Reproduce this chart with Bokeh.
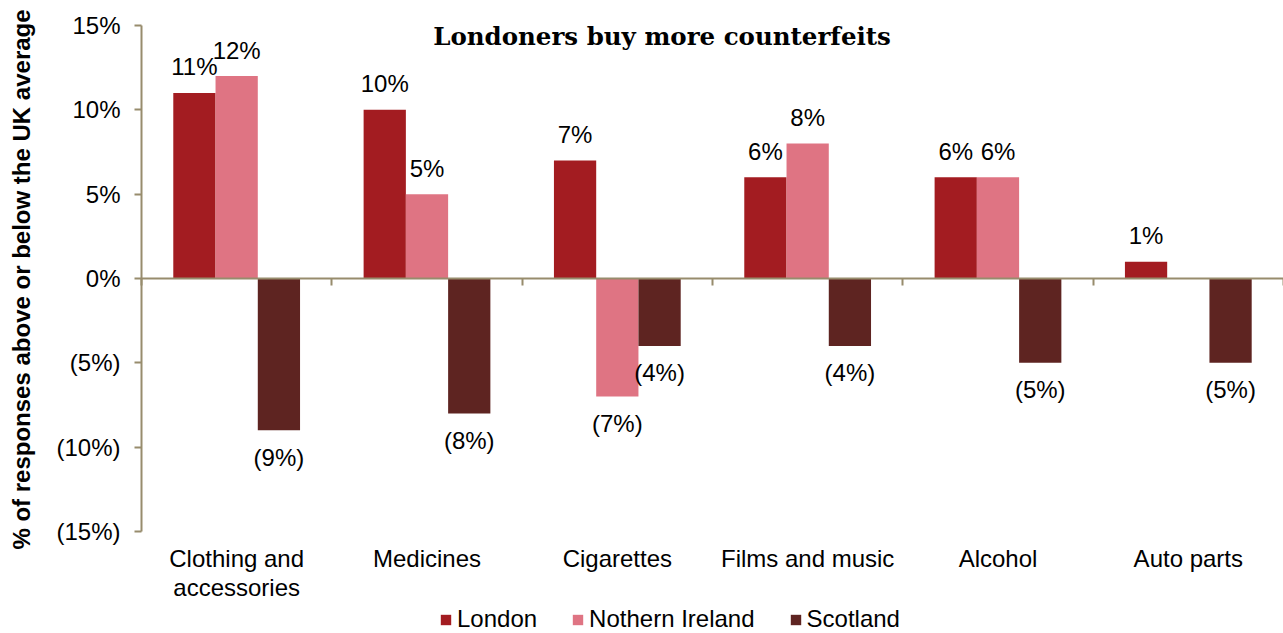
import math
import numpy as np
from bokeh.plotting import figure
from bokeh.models import (ColumnDataSource, Range1d, LinearAxis, FixedTicker,
                          Label, Legend, LegendItem)
from bokeh.transform import dodge
from bokeh.core.properties import value
from bokeh.embed import file_html
from bokeh.resources import INLINE

# ---------------- data ----------------
categories = ["Clothing and\naccessories", "Medicines", "Cigarettes",
              "Films and music", "Alcohol", "Auto parts"]
series_names = ["London", "Nothern Ireland", "Scotland"]
london = [11, 10, 7, 6, 6, 1]
northern_ireland = [12, 5, -7, 8, 6, 0]
scotland = [-9, -8, -4, -4, -5, -5]
y_ticks = [-15, -10, -5, 0, 5, 10, 15]
title_text = "Londoners buy more counterfeits"
y_label = "% of responses above or below the UK average"

# ---------------- style / layout ----------------
colors = ["#A31C21", "#DF7483", "#5E2421"]
axis_color = "#978C6D"
FONT = "Liberation Sans"
FS = "24px"

W, H = 1283, 633              # canvas size
OFFX, OFFY = 0, 0             # where the canvas lands on the page
AX_X0, PX_X = 141, 190.33     # page x of category origin, px per category
AX_Y0, PX_Y = 278, 16.867     # page y of zero line, px per percentage point


def pct(v):
    if v > 0:
        return f"{v}%"
    if v < 0:
        return f"({-v}%)"
    return "0%"


n = len(categories)
xs = [i + 0.5 for i in range(n)]

x_range = Range1d((OFFX - AX_X0) / PX_X, (OFFX + W - AX_X0) / PX_X)
y_range = Range1d((AX_Y0 - (OFFY + H)) / PX_Y, (AX_Y0 - OFFY) / PX_Y)

p = figure(width=W, height=H, x_range=x_range, y_range=y_range,
           x_axis_location=None, y_axis_location=None,
           output_backend="svg", toolbar_location=None, min_border=0)
p.min_border_left = 0
p.min_border_right = 0
p.min_border_top = 0
p.min_border_bottom = 0
p.outline_line_color = None
p.grid.visible = False
p.background_fill_color = "white"
p.border_fill_color = "white"

bar_w = 0.222
offsets = [-bar_w, 0.0, bar_w]
all_vals = [london, northern_ireland, scotland]
renderers = []
for name, vals, off, col in zip(series_names, all_vals, offsets, colors):
    labels = [pct(v) if v != 0 else "" for v in vals]
    yoff = [-26 if v > 0 else 27 for v in vals]
    src = ColumnDataSource(dict(x=xs, val=vals, label=labels, yoff=yoff))
    r = p.vbar(x=dodge("x", off), top="val", bottom=0, width=bar_w,
               fill_color=col, line_color=None, source=src)
    renderers.append(r)
    p.text(x=dodge("x", off), y="val", text="label", y_offset="yoff",
           text_align="center", text_baseline="middle",
           text_font=value(FONT), text_font_size=FS, text_color="black",
           source=src)

# y axis, drawn at the category origin
ya = LinearAxis(fixed_location=0, bounds=(y_ticks[0], y_ticks[-1]),
                ticker=FixedTicker(ticks=y_ticks))
ya.major_label_overrides = {t: pct(t) for t in y_ticks}
ya.axis_line_color = axis_color
ya.axis_line_width = 2
ya.major_tick_line_color = axis_color
ya.major_tick_line_width = 2
ya.major_tick_out = 7
ya.major_tick_in = 0
ya.minor_tick_line_color = None
ya.major_label_text_font = FONT
ya.major_label_text_font_size = FS
ya.major_label_text_color = "black"
ya.major_label_standoff = 14
p.add_layout(ya, "left")

# zero line with category boundary ticks
za = LinearAxis(fixed_location=0, bounds=(0, n),
                ticker=FixedTicker(ticks=list(range(n + 1))))
za.major_label_overrides = {i: "" for i in range(n + 1)}
za.major_label_text_font_size = "0px"
za.major_label_standoff = 0
za.axis_line_color = axis_color
za.axis_line_width = 2
za.major_tick_line_color = axis_color
za.major_tick_line_width = 2
za.major_tick_out = 7
za.major_tick_in = 0
za.minor_tick_line_color = None
p.add_layout(za, "below")

# category labels under the plot area
cat_src = ColumnDataSource(dict(x=xs, y=[y_ticks[0]] * n, text=categories))
p.text(x="x", y="y", text="text", source=cat_src, y_offset=13,
       text_align="center", text_baseline="top", text_line_height=1.1,
       text_font=value(FONT), text_font_size=FS, text_color="black")

# y axis title (rotated)
p.text(x=[(21 - AX_X0) / PX_X], y=[(AX_Y0 - 279) / PX_Y], text=[y_label],
       angle=math.pi / 2, text_align="center", text_baseline="middle",
       text_font=value(FONT), text_font_size=FS, text_font_style="bold",
       text_color="black")

# title inside the plot
title = Label(x=2.735, y=14.35, text=title_text, text_align="center",
              text_baseline="middle", text_font="DejaVu Serif",
              text_font_style="bold", text_font_size="24.5px",
              text_color="black")
p.add_layout(title)

# legend at the bottom
legend = Legend(items=[LegendItem(label=nm, renderers=[r])
                       for nm, r in zip(series_names, renderers)],
                orientation="horizontal", location=(439 - OFFX, 0))
legend.glyph_width = 13
legend.glyph_height = 13
legend.label_standoff = 5
legend.spacing = 34
legend.label_text_font = FONT
legend.label_text_font_size = FS
legend.label_text_color = "black"
legend.border_line_color = None
legend.background_fill_alpha = 0
legend.margin = 0
legend.padding = 0
p.add_layout(legend)

open("out.html", "w").write(file_html(p, INLINE))
